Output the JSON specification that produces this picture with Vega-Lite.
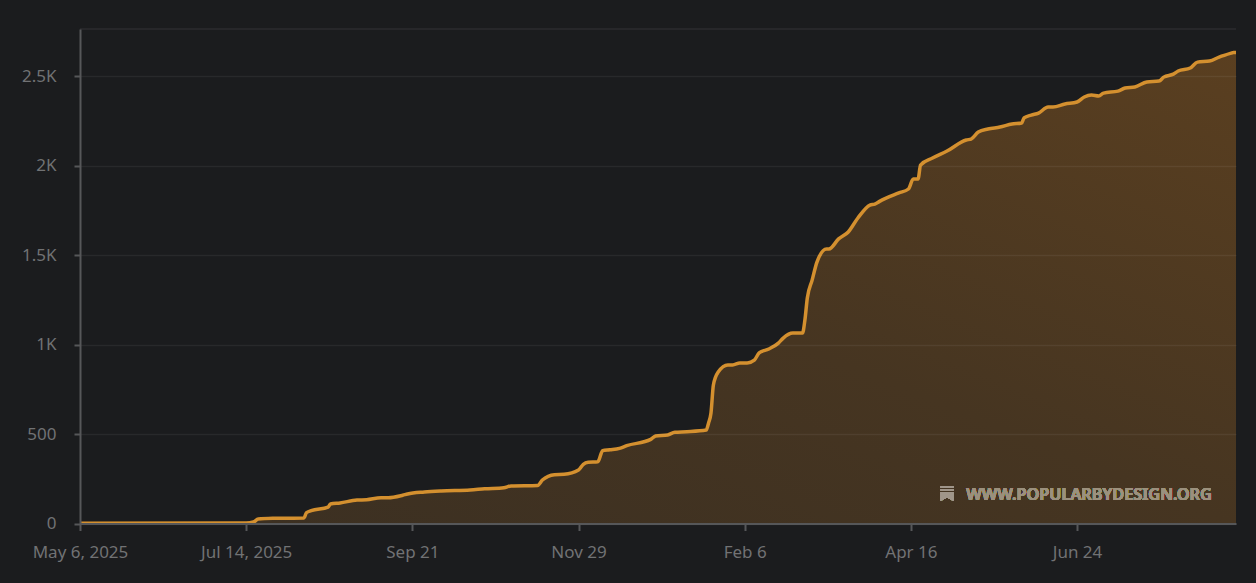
{
  "$schema": "https://vega.github.io/schema/vega-lite/v6.json",
  "width": 1156,
  "height": 494.5,
  "autosize": "none",
  "padding": {"left": 80, "top": 29, "right": 20, "bottom": 59.5},
  "background": "#1b1c1e",
  "data": {"values": [
    {"date":"2025-05-06","total":1},{"date":"2025-07-12","total":3},{"date":"2025-07-14","total":3},{"date":"2025-07-17","total":8},
    {"date":"2025-07-19","total":25},{"date":"2025-07-25","total":29},{"date":"2025-08-07","total":31},{"date":"2025-08-08","total":60},
    {"date":"2025-08-10","total":72},{"date":"2025-08-17","total":92},{"date":"2025-08-18","total":109},{"date":"2025-08-22","total":115},
    {"date":"2025-08-29","total":131},{"date":"2025-09-02","total":133},{"date":"2025-09-08","total":144},{"date":"2025-09-11","total":144},
    {"date":"2025-09-17","total":158},{"date":"2025-09-19","total":165},{"date":"2025-09-26","total":176},{"date":"2025-10-03","total":182},
    {"date":"2025-10-15","total":187},{"date":"2025-10-21","total":194},{"date":"2025-10-29","total":200},{"date":"2025-11-01","total":210},
    {"date":"2025-11-12","total":213},{"date":"2025-11-14","total":243},{"date":"2025-11-19","total":273},{"date":"2025-11-23","total":275},
    {"date":"2025-11-29","total":299},{"date":"2025-12-01","total":331},{"date":"2025-12-03","total":342},{"date":"2025-12-07","total":345},
    {"date":"2025-12-09","total":407},{"date":"2025-12-12","total":412},{"date":"2025-12-16","total":420},{"date":"2025-12-19","total":435},
    {"date":"2025-12-29","total":470},{"date":"2025-12-31","total":489},{"date":"2026-01-05","total":495},{"date":"2026-01-08","total":510},
    {"date":"2026-01-13","total":513},{"date":"2026-01-21","total":522},{"date":"2026-01-22","total":562},{"date":"2026-01-23","total":617},
    {"date":"2026-01-24","total":774},{"date":"2026-01-26","total":846},{"date":"2026-01-30","total":886},{"date":"2026-02-01","total":886},
    {"date":"2026-02-04","total":897},{"date":"2026-02-07","total":897},{"date":"2026-02-10","total":913},{"date":"2026-02-12","total":953},
    {"date":"2026-02-16","total":975},{"date":"2026-02-20","total":1008},{"date":"2026-02-22","total":1036},{"date":"2026-02-26","total":1064},
    {"date":"2026-03-02","total":1064},{"date":"2026-03-03","total":1137},{"date":"2026-03-04","total":1260},{"date":"2026-03-06","total":1360},
    {"date":"2026-03-08","total":1461},{"date":"2026-03-12","total":1534},{"date":"2026-03-13","total":1534},{"date":"2026-03-17","total":1590},
    {"date":"2026-03-21","total":1629},{"date":"2026-03-25","total":1707},{"date":"2026-03-30","total":1779},{"date":"2026-04-01","total":1785},
    {"date":"2026-04-03","total":1800},{"date":"2026-04-11","total":1847},{"date":"2026-04-15","total":1869},{"date":"2026-04-17","total":1925},{"date":"2026-04-19","total":1925},
    {"date":"2026-04-20","total":2003},{"date":"2026-04-25","total":2042},{"date":"2026-05-01","total":2081},{"date":"2026-05-09","total":2143},
    {"date":"2026-05-11","total":2148},{"date":"2026-05-14","total":2187},{"date":"2026-05-18","total":2204},{"date":"2026-05-23","total":2215},
    {"date":"2026-05-28","total":2232},{"date":"2026-06-01","total":2238},{"date":"2026-06-02","total":2266},{"date":"2026-06-05","total":2282},
    {"date":"2026-06-08","total":2293},{"date":"2026-06-12","total":2327},{"date":"2026-06-14","total":2327},{"date":"2026-06-19","total":2344},
    {"date":"2026-06-24","total":2355},{"date":"2026-06-27","total":2383},{"date":"2026-06-30","total":2394},{"date":"2026-07-03","total":2388},
    {"date":"2026-07-05","total":2405},{"date":"2026-07-11","total":2416},{"date":"2026-07-14","total":2433},{"date":"2026-07-18","total":2439},
    {"date":"2026-07-23","total":2467},{"date":"2026-07-28","total":2472},{"date":"2026-07-30","total":2494},{"date":"2026-08-03","total":2511},
    {"date":"2026-08-05","total":2528},{"date":"2026-08-10","total":2545},{"date":"2026-08-13","total":2578},{"date":"2026-08-18","total":2584},
    {"date":"2026-08-22","total":2606},{"date":"2026-08-27","total":2628},{"date":"2026-08-28","total":2632},{"date":"2026-08-29","total":2632}
  ]},
  "encoding": {
    "x": {
      "field": "date", "type": "temporal", "title": null,
      "scale": {"type": "utc", "domain": ["2025-05-06", "2026-08-29"], "nice": false},
      "axis": {
        "values": ["2025-05-06", "2025-07-14", "2025-09-21", "2025-11-29", "2026-02-06", "2026-04-16", "2026-06-24"],
        "labelExpr": "utcFormat(datum.value, datum.value < datetime(2025, 7, 1) ? '%b %-d, %Y' : '%b %-d')",
        "grid": false, "tickSize": 7, "labelPadding": 14, "zindex": 1, "labelOverlap": false, "labelFlush": false
      }
    },
    "y": {
      "field": "total", "type": "quantitative", "title": null,
      "scale": {"domain": [0, 2763], "nice": false},
      "axis": {
        "values": [0, 500, 1000, 1500, 2000, 2500],
        "labelExpr": "replace(format(datum.value, '~s'), 'k', 'K')",
        "grid": true, "tickSize": 6, "labelPadding": 18, "zindex": 1
      }
    }
  },
  "layer": [
    {"mark": {"type": "rule", "color": "#28292b", "strokeWidth": 1.5}, "encoding": {"x": null, "y": {"datum": 2763}}},
    {"mark": {"type": "area", "interpolate": "monotone", "color": {
      "gradient": "linear", "x1": 0, "y1": 1, "x2": 1, "y2": 0,
      "stops": [{"offset": 0, "color": "#3a2f22"}, {"offset": 0.5, "color": "#463521"}, {"offset": 1, "color": "#5a3f20"}]
    }}},
    {"mark": {"type": "line", "interpolate": "monotone", "color": "#d4902f", "strokeWidth": 3.5}},
    {"mark": {"type": "point", "filled": true, "opacity": 1, "size": 225, "color": "#a0968a",
      "shape": "M-.87-1H.87V-.8H-.87ZM-.87-.6H.87V-.4H-.87ZM-.87-.2H.87V1L0 .55L-.87 1Z"},
      "encoding": {"x": {"datum": {"year": 2026, "month": 5, "date": 1}}, "y": {"datum": 168}}},
    {"mark": {"type": "text", "text": "WWW.POPULARBYDESIGN.ORG", "align": "left", "baseline": "middle", "font": "Noto Sans", "fontSize": 16.3, "fontWeight": 600, "color": "#9c917e"},
      "encoding": {"x": {"datum": {"year": 2026, "month": 5, "date": 9}}, "y": {"datum": 159}}}
  ],
  "config": {
    "view": {"stroke": null},
    "axis": {
      "labelFont": "Noto Sans", "labelFontSize": 17, "labelColor": "#717274",
      "domainColor": "#565759", "domainWidth": 2, "tickColor": "#565759", "tickWidth": 2,
      "gridColor": "#ffffff", "gridOpacity": 0.06, "gridWidth": 1.5
    }
  }
}
